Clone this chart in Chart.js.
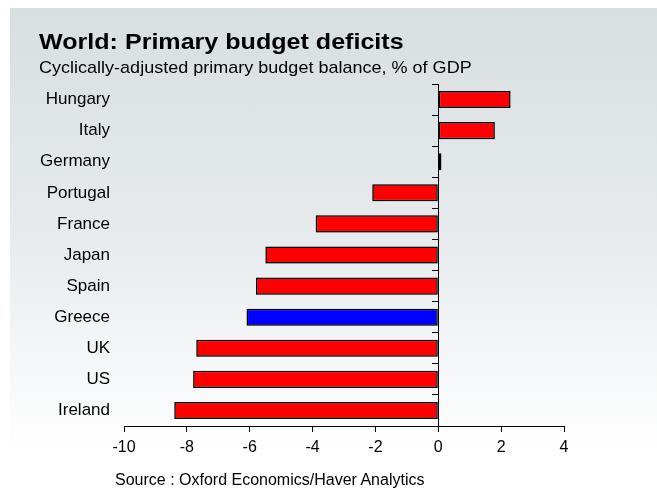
<!DOCTYPE html>
<html>
<head>
<meta charset="utf-8">
<script src="https://cdn.jsdelivr.net/npm/chart.js@4"></script>
<style>
  body { margin: 0; background: #fff; }
  #wrap { position: relative; width: 657px; height: 491px; overflow: hidden; }
  #panel { position: absolute; left: 10px; top: 8px; right: 0; bottom: 0;
           background: linear-gradient(to bottom, #d8dfe1 0%, #e6eaec 45%, #ffffff 92%); }
  #myChart { position: absolute; left: 0; top: 0; }
  .txt { position: absolute; font-family: "Liberation Sans", Arial, sans-serif; color: #000;
         white-space: nowrap; transform-origin: left top; }
  #title { left: 39px; top: 31px; font-size: 22px; font-weight: bold; line-height: 22px; transform: scaleX(1.14); }
  #subtitle { left: 39px; top: 59px; font-size: 17px; line-height: 17px; transform: scaleX(1.06); }
  #source { left: 115px; top: 472px; font-size: 16px; line-height: 16px; }
</style>
</head>
<body>
<div id="wrap">
  <div id="panel"></div>
  <canvas id="myChart" width="657" height="491"></canvas>
  <div class="txt" id="title">World: Primary budget deficits</div>
  <div class="txt" id="subtitle">Cyclically-adjusted primary budget balance, % of GDP</div>
  <div class="txt" id="source">Source : Oxford Economics/Haver Analytics</div>
</div>
<script>
// data
const countries = ["Hungary", "Italy", "Germany", "Portugal", "France", "Japan", "Spain", "Greece", "UK", "US", "Ireland"];
const balance = [2.3, 1.8, 0.1, -2.1, -3.9, -5.5, -5.8, -6.1, -7.7, -7.8, -8.4];
const highlight = "Greece";
const xMin = -10, xMax = 4, xStep = 2;

const colors = countries.map(c => c === highlight ? "#0000ff" : "#ff0000");

Chart.defaults.font.family = '"Liberation Sans", Arial, sans-serif';
Chart.defaults.color = "#000";

// soft halo round the bars, like the original
const barShadow = {
    id: "barShadow",
    beforeDatasetsDraw(chart) {
        const ctx = chart.ctx;
        ctx.save();
        ctx.shadowColor = "rgba(0,0,0,0.3)";
        ctx.shadowBlur = 1.5;
        ctx.shadowOffsetX = -0.5;
        ctx.shadowOffsetY = 0.5;
    },
    afterDatasetsDraw(chart) {
        chart.ctx.restore();
    }
};

const config = {
    type: "bar",
    data: {
        labels: countries,
        datasets: [{
            data: balance,
            backgroundColor: colors,
            borderColor: "#000",
            borderWidth: 1.5,
            borderSkipped: false,
            barPercentage: 0.55,
            categoryPercentage: 1
        }]
    },
    options: {
        indexAxis: "y",
        responsive: false,
        animation: false,
        layout: { padding: { top: 84, right: 93, bottom: 25, left: 0 } },
        plugins: { legend: { display: false }, tooltip: { enabled: false } },
        scales: {
            x: {
                min: xMin, max: xMax,
                ticks: { stepSize: xStep, font: { size: 16 }, padding: 6 },
                grid: { drawOnChartArea: false, drawTicks: true, tickLength: 6, color: "#000" },
                border: { display: true, color: "#000", width: 1 },
                afterFit: s => { s.height = 40; }
            },
            y: {
                ticks: { font: { size: 17 }, padding: 14 },
                grid: { display: false, drawTicks: false },
                border: { display: false },
                afterFit: s => { s.width = 124; }
            },
            y2: {
                type: "category",
                axis: "y",
                labels: countries,
                position: { x: 0 },
                offset: true,
                ticks: { display: false },
                grid: { offset: true, drawOnChartArea: false, drawTicks: true, tickLength: 6, color: "#000" },
                border: { display: true, color: "#000", width: 1 }
            }
        }
    },
    plugins: [barShadow]
};

const mtChart = new Chart(document.getElementById("myChart"), config);
</script>
</body>
</html>
